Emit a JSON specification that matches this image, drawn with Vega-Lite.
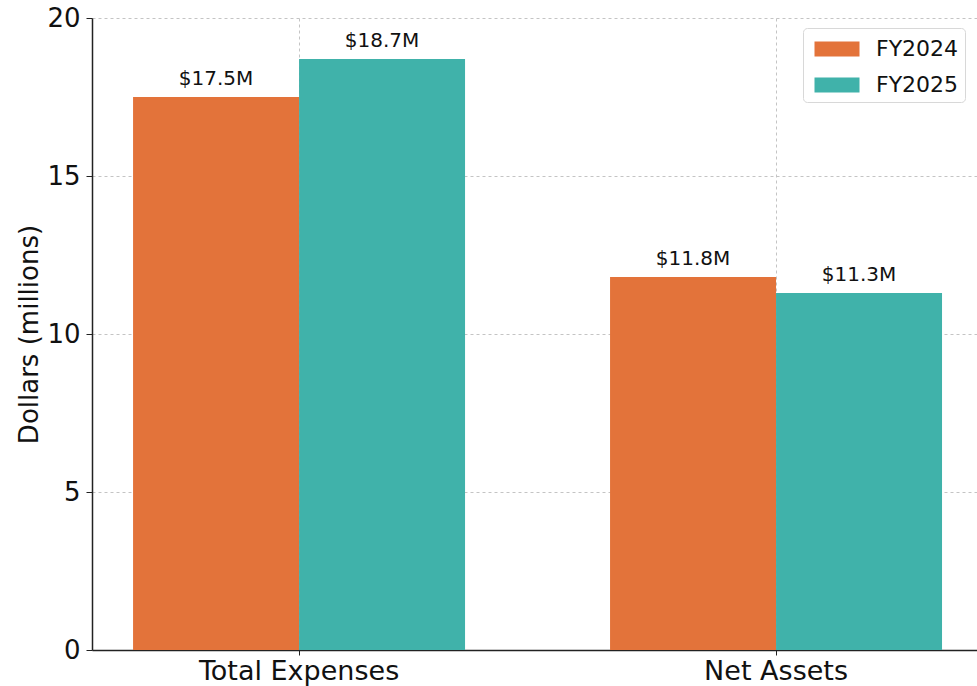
{
  "$schema": "https://vega.github.io/schema/vega-lite/v6.json",
  "width": 885,
  "height": 632,
  "autosize": {"type": "none"},
  "padding": {"left": 92, "top": 18, "right": 0, "bottom": 36},
  "background": "white",
  "config": {
    "view": {"stroke": null},
    "font": "DejaVu Sans",
    "axis": {"labelFont": "DejaVu Sans", "titleFont": "DejaVu Sans", "labelColor": "#111", "titleColor": "#111", "titleFontWeight": "normal"}
  },
  "data": {
    "values": [
      {"category": "Total Expenses", "year": "FY2024", "value": 17.5, "label": "$17.5M"},
      {"category": "Total Expenses", "year": "FY2025", "value": 18.7, "label": "$18.7M"},
      {"category": "Net Assets", "year": "FY2024", "value": 11.8, "label": "$11.8M"},
      {"category": "Net Assets", "year": "FY2025", "value": 11.3, "label": "$11.3M"}
    ]
  },
  "encoding": {
    "x": {
      "field": "category", "type": "nominal", "sort": null,
      "scale": {"paddingInner": 0.304, "paddingOuter": 0.0797, "align": 0.54},
      "axis": {
        "title": null, "labelAngle": 0, "labelFontSize": 27, "labelPadding": 3, "labelLimit": 0,
        "tickSize": 5, "tickColor": "#222", "domainColor": "#222", "domainWidth": 1.5,
        "grid": true, "bandPosition": 0.5, "gridColor": "#c4c4c4", "gridDash": [3, 3], "gridWidth": 1
      }
    },
    "xOffset": {"field": "year", "type": "nominal", "scale": {"paddingInner": 0, "paddingOuter": 0}},
    "y": {
      "field": "value", "type": "quantitative",
      "scale": {"domain": [0, 20], "nice": false},
      "axis": {
        "title": "Dollars (millions)", "titleFontSize": 26, "titlePadding": 4,
        "values": [0, 5, 10, 15, 20], "labelFontSize": 26, "labelPadding": 6,
        "tickSize": 6, "tickColor": "#222", "domainColor": "#222", "domainWidth": 1.5,
        "grid": true, "gridColor": "#c4c4c4", "gridDash": [3, 3], "gridWidth": 1
      }
    }
  },
  "layer": [
    {
      "mark": {"type": "bar"},
      "encoding": {
        "color": {
          "field": "year", "type": "nominal",
          "scale": {"domain": ["FY2024", "FY2025"], "range": ["#E3733A", "#40B2AA"]},
          "legend": {
            "title": null, "orient": "none", "legendX": 711, "legendY": 10,
            "labelFontSize": 22, "labelFont": "DejaVu Sans", "labelColor": "#111",
            "symbolType": "M-1.5,-0.5L1.5,-0.5L1.5,0.5L-1.5,0.5Z", "symbolSize": 900,
            "symbolStrokeWidth": 0, "symbolOffset": 13, "labelOffset": 24, "rowPadding": 10,
            "padding": 6, "strokeColor": "#d8d8d8", "fillColor": "white", "cornerRadius": 4
          }
        }
      }
    },
    {
      "mark": {"type": "text", "baseline": "bottom", "dy": -8, "fontSize": 20, "font": "DejaVu Sans", "color": "#111"},
      "encoding": {"text": {"field": "label"}}
    }
  ]
}
